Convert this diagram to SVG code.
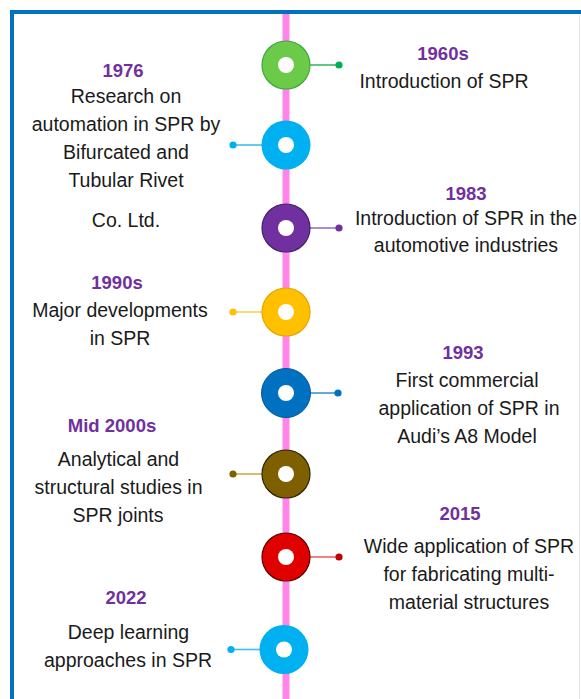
<svg xmlns="http://www.w3.org/2000/svg" width="581" height="699" viewBox="0 0 581 699">
  <style>
    text { font-family: "Liberation Sans", Arial, sans-serif; font-size: 19.5px; fill: #1a1a1a; text-anchor: middle; }
    .yr { font-weight: bold; font-size: 18.5px; fill: #7030A0; }
    .ring-hole { fill: #ffffff; }
    .link { stroke-width: 1.6; fill: none; }
  </style>

  <!-- frame -->
  <rect width="581" height="699" fill="#ffffff"/>
  <path d="M12 699 V12 H581" fill="none" stroke="#0070C0" stroke-width="4"/>
  <line x1="579.5" y1="14" x2="579.5" y2="699" stroke="#dde6ee" stroke-width="1"/>

  <!-- timeline spine -->
  <rect id="spine" x="282.5" y="14" width="7" height="685" fill="#FF85EA"/>

  <!-- connectors -->
  <g id="connectors">
    <line class="link" x1="310" y1="65" x2="339" y2="65" stroke="#3CB868"/>
    <circle cx="339" cy="65" r="3.6" fill="#00B050"/>
    <line class="link" x1="233" y1="145" x2="262" y2="145" stroke="#40C0F0"/>
    <circle cx="233" cy="145" r="3.6" fill="#00B0F0"/>
    <line class="link" x1="310" y1="228" x2="339" y2="228" stroke="#9C72C4"/>
    <circle cx="339" cy="228" r="3.6" fill="#7030A0"/>
    <line class="link" x1="233" y1="312" x2="262" y2="312" stroke="#FFCF55"/>
    <circle cx="233" cy="312" r="3.6" fill="#FFC000"/>
    <line class="link" x1="310" y1="393" x2="338" y2="393" stroke="#3C95D2"/>
    <circle cx="338" cy="393" r="3.6" fill="#0070C0"/>
    <line class="link" x1="233" y1="474" x2="262" y2="474" stroke="#D2A84A"/>
    <circle cx="233" cy="474" r="3.6" fill="#7F6000"/>
    <line class="link" x1="310" y1="557" x2="339" y2="557" stroke="#E46868"/>
    <circle cx="339" cy="557" r="3.6" fill="#C00000"/>
    <line class="link" x1="231" y1="649.5" x2="260" y2="649.5" stroke="#40C0F0"/>
    <circle cx="231" cy="649.5" r="3.6" fill="#00B0F0"/>
  </g>

  <!-- milestones -->
  <g id="m1960s">
    <circle cx="286" cy="65" r="24" fill="#6BCB48" stroke="#3DA83D" stroke-width="1.2"/>
    <circle class="ring-hole" cx="286" cy="65" r="8"/>
    <text class="yr" x="443" y="59.5">1960s</text>
    <text x="444" y="87.5">Introduction of SPR</text>
  </g>

  <g id="m1976">
    <circle cx="286" cy="145" r="24.5" fill="#00B0F0"/>
    <circle class="ring-hole" cx="286" cy="145" r="8"/>
    <text class="yr" x="123" y="77">1976</text>
    <text x="126" y="102.5">Research on</text>
    <text x="126" y="130.5">automation in SPR by</text>
    <text x="126" y="158.5">Bifurcated and</text>
    <text x="126" y="186.5">Tubular Rivet</text>
    <text x="126" y="227">Co. Ltd.</text>
  </g>

  <g id="m1983">
    <circle cx="286" cy="228" r="24" fill="#7030A0" stroke="#43206A" stroke-width="1.2"/>
    <circle class="ring-hole" cx="286" cy="228" r="8"/>
    <text class="yr" x="466" y="200">1983</text>
    <text x="466" y="224.5">Introduction of SPR in the</text>
    <text x="466" y="252">automotive industries</text>
  </g>

  <g id="m1990s">
    <circle cx="286" cy="312" r="24" fill="#FFC000" stroke="#E3A600" stroke-width="1.2"/>
    <circle class="ring-hole" cx="286" cy="312" r="8"/>
    <text class="yr" x="117" y="288.5">1990s</text>
    <text x="120" y="316.5">Major developments</text>
    <text x="120" y="344.5">in SPR</text>
  </g>

  <g id="m1993">
    <circle cx="286" cy="393" r="24.5" fill="#0070C0" stroke="#005A9E" stroke-width="1"/>
    <circle class="ring-hole" cx="286" cy="393" r="8"/>
    <text class="yr" x="463" y="359">1993</text>
    <text x="467" y="387">First commercial</text>
    <text x="469" y="415">application of SPR in</text>
    <text x="467" y="443">Audi’s A8 Model</text>
  </g>

  <g id="mMid2000s">
    <circle cx="286" cy="474" r="24" fill="#7F6000" stroke="#2E2300" stroke-width="1.2"/>
    <circle class="ring-hole" cx="286" cy="474" r="8"/>
    <text class="yr" x="112" y="431.5">Mid 2000s</text>
    <text x="118.5" y="465.5">Analytical and</text>
    <text x="118.5" y="493.5">structural studies in</text>
    <text x="118" y="521.5">SPR joints</text>
  </g>

  <g id="m2015">
    <circle cx="286" cy="557" r="24" fill="#E00000" stroke="#5A0000" stroke-width="1.2"/>
    <circle class="ring-hole" cx="286" cy="557" r="8"/>
    <text class="yr" x="460" y="519.5">2015</text>
    <text x="469" y="552.5">Wide application of SPR</text>
    <text x="469" y="580.5">for fabricating multi-</text>
    <text x="469" y="608.5">material structures</text>
  </g>

  <g id="m2022">
    <circle cx="284" cy="649.5" r="24.5" fill="#00B0F0"/>
    <circle class="ring-hole" cx="284" cy="649.5" r="8"/>
    <text class="yr" x="126" y="603.5">2022</text>
    <text x="128.5" y="638.5">Deep learning</text>
    <text x="128" y="666.5">approaches in SPR</text>
  </g>
</svg>
